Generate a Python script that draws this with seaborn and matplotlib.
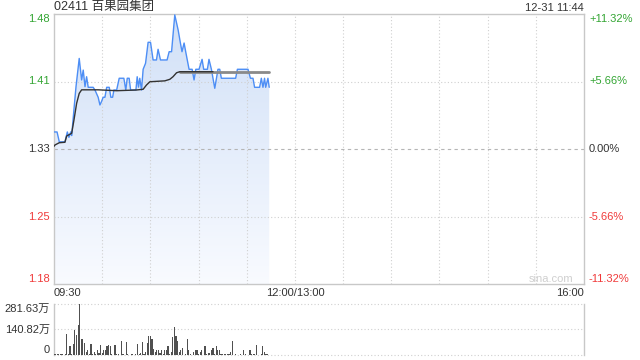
import numpy as np
import matplotlib
matplotlib.use("Agg")
import matplotlib.pyplot as plt
import seaborn as sns
from matplotlib.patches import Polygon

# ---------------- data ----------------
title = "02411 百果园集团"
stamp = "12-31 11:44"
prev_close = 1.33
pct_levels = [11.32, 5.66, 0.0, -5.66, -11.32]
price_labels = ["1.48", "1.41", "1.33", "1.25", "1.18"]
pct_labels = ["+11.32%", "+5.66%", "0.00%", "-5.66%", "-11.32%"]
time_labels = ["09:30", "12:00/13:00", "16:00"]
time_ticks = [0, 150, 330]
vol_labels = ["281.63万", "140.82万", "0"]
vol_ticks = [281.63, 140.82, 0]

# minutes after 09:30 and price
price_t = [0, 1.9, 3.3, 6.8, 8.3, 9.3, 10.4, 11.0, 12.4, 13.7, 15.7, 17.2, 18.2, 19.3,
           20.3, 21.3, 24.4, 25.5, 27.5, 28.6, 29.6, 30.6, 31.7, 32.8, 34.4, 35.4, 36.5,
           37.3, 39.0, 40.6, 43.5, 44.7, 45.6, 46.8, 47.7, 51.0, 51.8, 52.6, 53.4, 54.5,
           55.5, 57.0, 58.6, 60.1, 61.7, 63.8, 64.8, 66.3, 67.6, 70.4, 71.7, 73.2, 75.2,
           77.3, 78.7, 79.7, 81.0, 82.0, 84.1, 86.0, 87.2, 88.3, 90.3, 92.2, 93.2, 95.5,
           96.5, 98.0, 100.1, 102.1, 103.2, 104.2, 113.1, 114.2, 120.8, 122.3, 123.9,
           124.9, 128.0, 129.1, 130.1, 131.1, 131.8, 133.2, 134.0]
price_v = [1.349, 1.349, 1.338, 1.338, 1.349, 1.343, 1.349, 1.345, 1.3735, 1.3995, 1.431,
           1.407, 1.418, 1.3995, 1.4106, 1.3988, 1.3988, 1.3958, 1.3877, 1.3791, 1.383,
           1.3877, 1.3877, 1.3988, 1.3988, 1.3877, 1.3877, 1.3958, 1.3958, 1.4089, 1.4089,
           1.3958, 1.4089, 1.4089, 1.3958, 1.3958, 1.4106, 1.399, 1.4089, 1.3958, 1.4189,
           1.4256, 1.449, 1.449, 1.4293, 1.4293, 1.4412, 1.4293, 1.4293, 1.4293, 1.4385,
           1.4385, 1.4795, 1.4627, 1.4482, 1.4385, 1.4482, 1.4385, 1.4189, 1.4189, 1.407,
           1.4189, 1.4189, 1.43, 1.4189, 1.4189, 1.43, 1.4189, 1.3977, 1.4189, 1.4189,
           1.4089, 1.4089, 1.4189, 1.4189, 1.4089, 1.4089, 1.3988, 1.3988, 1.4089, 1.3988,
           1.4089, 1.3988, 1.4089, 1.3988]

avg_t = [0, 0.6, 3.3, 6.8, 7.9, 11.0, 12.4, 14.1, 15.7, 17.2, 27.5, 39.0, 51.4, 55.5,
         57.6, 59.7, 69.0, 72.1, 74.1, 76.3, 78.3, 99.0, 134.0]
avg_v = [1.333, 1.3345, 1.337, 1.3375, 1.3445, 1.3475, 1.362, 1.381, 1.392, 1.396, 1.396,
         1.395, 1.3958, 1.3966, 1.4014, 1.405, 1.406, 1.4077, 1.4106, 1.415, 1.4162,
         1.4162, 1.4162]

volume = [6, 5, 4, 5, 3, 4, 2, 3, 116, 6, 48, 3, 59, 139, 110, 167, 281.63, 91, 91, 67,
          15, 29, 4, 63, 8, 19, 8, 29, 12, 53, 12, 25, 29, 50, 53, 48, 4, 2, 53, 5,
          3, 2, 76, 4, 2, 70, 3, 2, 8, 3, 2, 4, 59, 6, 12, 70, 4, 15, 67, 105,
          105, 86, 34, 15, 29, 29, 10, 25, 6, 29, 25, 48, 5, 15, 101, 154, 105, 76, 15, 29,
          40, 2, 3, 91, 25, 3, 2, 15, 29, 25, 4, 15, 25, 2, 48, 3, 12, 10, 25, 40,
          5, 48, 25, 25, 8, 3, 5, 5, 5, 5, 15, 78, 2, 3, 2, 2, 3, 2, 25, 3,
          2, 2, 29, 5, 5, 3, 53, 2, 2, 3, 48, 15, 5, 3, 2]
vol_t = list(range(len(volume)))

# ---------------- style ----------------
sns.set_theme(style="white")
plt.rcParams["font.family"] = ["Liberation Sans", "Noto Sans CJK SC", "DejaVu Sans"]

GREEN = "#33a533"
RED = "#f03a3a"
DARK = "#333333"
GRID = "#d0d0d0"
SPINE = "#c8c8c8"

fig = plt.figure(figsize=(6.4, 3.6), dpi=100)
ax = fig.add_axes([54 / 640, 1 - 284 / 360, 530 / 640, 270 / 360])
axv = fig.add_axes([54 / 640, 1 - 355 / 360, 530 / 640, 51 / 360])

ymax = prev_close * (1 + pct_levels[0] / 100)
ymin = prev_close * (1 + pct_levels[-1] / 100)
ax.set_xlim(0, 330)
ax.set_ylim(ymin, ymax)

# gradient fill under price line
c_top = np.array([0.82, 0.88, 0.97])
c_bot = np.array([0.975, 0.983, 1.0])
g = np.linspace(0, 1, 256)[:, None]
img = c_top[None, None, :] * (1 - g[..., None]) + c_bot[None, None, :] * g[..., None]
img = np.repeat(img, 2, axis=1)
im = ax.imshow(img, extent=[price_t[0], price_t[-1], ymin, max(price_v)], aspect="auto",
               origin="upper", zorder=0.2, interpolation="bilinear")
poly = Polygon(list(zip(price_t, price_v)) + [(price_t[-1], ymin), (price_t[0], ymin)],
               closed=True, facecolor="none", edgecolor="none")
ax.add_patch(poly)
im.set_clip_path(poly)

# grid (drawn over the fill)
for m in range(30, 330, 30):
    ax.axvline(m, color=GRID, lw=0.8, ls=(0, (1, 2)), zorder=1.5)
for p in (5.66, -5.66):
    ax.axhline(prev_close * (1 + p / 100), color=GRID, lw=0.8, ls=(0, (1, 2)), zorder=1.5)
ax.axhline(prev_close, color="#b5b5b5", lw=0.8, ls=(0, (3, 3)), zorder=1.6)

# lines
sns.lineplot(x=price_t, y=price_v, ax=ax, color="#4d8ef5", lw=1.0, zorder=3)
sns.lineplot(x=[t for t in avg_t if t >= 78.3], y=[v for t, v in zip(avg_t, avg_v) if t >= 78.3],
             ax=ax, color="#8a8a8a", lw=2.0, zorder=4)
sns.lineplot(x=[t for t in avg_t if t <= 99], y=[v for t, v in zip(avg_t, avg_v) if t <= 99],
             ax=ax, color="#333333", lw=1.0, zorder=5)

ax.set_xticks([])
ax.set_yticks([])
ax.set_xlabel("")
ax.set_ylabel("")
for s in ax.spines.values():
    s.set_color(SPINE)
    s.set_linewidth(1.0)

# y labels
colors = [GREEN, GREEN, DARK, RED, RED]
vas = ["top", "center", "center", "center", "bottom"]
for p, lab, plab, c, va in zip(pct_levels, price_labels, pct_labels, colors, vas):
    yv = prev_close * (1 + p / 100)
    ax.text(-0.008, yv, lab, transform=ax.get_yaxis_transform(), ha="right", va=va,
            color=c, fontsize=8)
    ax.text(1.0094, yv, plab, transform=ax.get_yaxis_transform(), ha="left", va=va,
            color=c, fontsize=8)

# x labels
has = ["left", "center", "right"]
for t, lab, ha in zip(time_ticks, time_labels, has):
    ax.text(t, -0.034, lab, transform=ax.get_xaxis_transform(), ha=ha, va="center",
            color=DARK, fontsize=8)

ax.text(0.979, 0.019, "sina.com", transform=ax.transAxes, ha="right", va="center",
        color="#cfcfcf", fontsize=8)

# volume
sns.barplot(x=vol_t, y=volume, ax=axv, native_scale=True, color="#505050", saturation=1,
            width=0.7, errorbar=None, linewidth=0, zorder=3)
axv.set_xlim(0, 330)
axv.set_ylim(0, 281.63)
for v in vol_ticks:
    axv.axhline(v, color=GRID, lw=0.8, ls=(0, (1, 2)), zorder=0.5, clip_on=False)
axv.set_xticks([])
axv.set_yticks([])
axv.set_xlabel("")
axv.set_ylabel("")
for k in ("top", "bottom"):
    axv.spines[k].set_visible(False)
for k in ("left", "right"):
    axv.spines[k].set_color(SPINE)
    axv.spines[k].set_linewidth(1.0)
for v, lab, va in zip(vol_ticks, vol_labels, ["top", "center", "bottom"]):
    axv.text(-0.008, v, lab, transform=axv.get_yaxis_transform(), ha="right", va=va,
             color=DARK, fontsize=8)

fig.text(54 / 640, 1 - 7 / 360, title, ha="left", va="center", color=DARK, fontsize=9)
fig.text(584 / 640, 1 - 8 / 360, stamp, ha="right", va="center", color=DARK, fontsize=8)

fig.savefig("out.png", dpi=100)
